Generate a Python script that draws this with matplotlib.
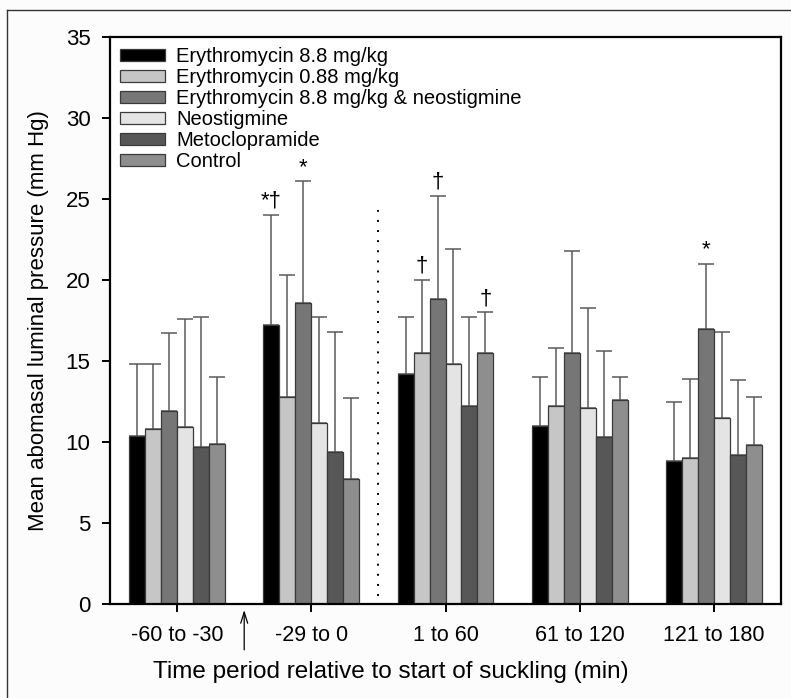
import numpy as np
import matplotlib
matplotlib.use("Agg")
import matplotlib.pyplot as plt
from matplotlib.lines import Line2D

plt.rcParams['font.family'] = ['Liberation Sans', 'DejaVu Sans']

# ---- data ----
periods = ['-60 to -30', '-29 to 0', '1 to 60', '61 to 120', '121 to 180']
treatments = ['Erythromycin 8.8 mg/kg', 'Erythromycin 0.88 mg/kg',
              'Erythromycin 8.8 mg/kg & neostigmine', 'Neostigmine',
              'Metoclopramide', 'Control']
colors = ['#000000', '#c6c6c6', '#767676', '#e4e4e4', '#575757', '#8e8e8e']

# mean pressure (mm Hg), one list per treatment
ery88 = [10.4, 17.2, 14.2, 11.0, 8.8]
ery088 = [10.8, 12.8, 15.5, 12.2, 9.0]
ery_neo = [11.9, 18.6, 18.8, 15.5, 17.0]
neo = [10.9, 11.2, 14.8, 12.1, 11.5]
meto = [9.7, 9.4, 12.2, 10.3, 9.2]
control = [9.9, 7.7, 15.5, 12.6, 9.8]

# top of the (upper) error bar
ery88_top = [14.8, 24.0, 17.7, 14.0, 12.5]
ery088_top = [14.8, 20.3, 20.0, 15.8, 13.9]
ery_neo_top = [16.7, 26.1, 25.2, 21.8, 21.0]
neo_top = [17.6, 17.7, 21.9, 18.3, 16.8]
meto_top = [17.7, 16.8, 17.7, 15.6, 13.8]
control_top = [14.0, 12.7, 18.0, 14.0, 12.8]

means = [ery88, ery088, ery_neo, neo, meto, control]
tops = [ery88_top, ery088_top, ery_neo_top, neo_top, meto_top, control_top]

# significance marks: (period index, treatment index, text)
marks = [(1, 0, '*\u2020'), (1, 2, '*'), (2, 1, '\u2020'), (2, 2, '\u2020'),
         (2, 5, '\u2020'), (4, 2, '*')]

# ---- figure ----
fig = plt.figure(figsize=(7.91, 6.98), dpi=100, facecolor='#fcfcfc')
ax = fig.add_axes([110 / 791, 94 / 698, 671 / 791, 567 / 698])

x = np.arange(len(periods))
w = 0.119
for i, (m, t) in enumerate(zip(means, tops)):
    pos = x + (i - 2.5) * w
    m = np.array(m)
    err = np.array(t) - m
    ax.bar(pos, m, width=w, color=colors[i], edgecolor='#3a3a3a',
           linewidth=0.9, label=treatments[i], zorder=2)
    ax.errorbar(pos, m, yerr=[np.zeros_like(m), err], fmt='none',
                ecolor='#5a5a5a', elinewidth=1.1, capsize=6,
                capthick=1.1, zorder=1)

for p, t, txt in marks:
    xp = x[p] + (t - 2.5) * w
    ax.text(xp, tops[t][p] + 0.2, txt, ha='center', va='bottom',
            fontsize=16)

# dotted line marking start of suckling
ax.plot([1.5, 1.5], [0.5, 24.3], color='black', lw=1.4,
        ls=(0, (1, 4.2)), zorder=3)

# arrow under the axis
ax.annotate('', xy=(0.5, -0.2), xytext=(0.5, -3.0),
            arrowprops=dict(arrowstyle='->,head_length=0.8,head_width=0.25',
                            color='black', lw=0.9),
            annotation_clip=False)

ax.set_xlim(-0.5, 4.5)
ax.set_ylim(0, 35)
ax.set_xticks(x)
ax.set_xticklabels(periods, fontsize=15.5)
ax.set_yticks(np.arange(0, 36, 5))
ax.tick_params(axis='y', labelsize=16, direction='out', length=6,
               width=1.4, pad=8)
ax.tick_params(axis='x', direction='out', length=6, width=1.4, pad=9)
for s in ax.spines.values():
    s.set_linewidth(1.6)

ax.set_ylabel('Mean abomasal luminal pressure (mm Hg)', fontsize=16,
              labelpad=12)
ax.set_xlabel('Time period relative to start of suckling (min)',
              fontsize=17.5)
ax.xaxis.set_label_coords(0.419, -0.1)

ax.legend(loc='upper left', frameon=False, fontsize=14.5,
          handlelength=2.25, handleheight=0.5, handletextpad=0.55,
          labelspacing=0.1, borderaxespad=0.25, borderpad=0.25)

# outer frame (only top and left edges are visible in the original)
fig.add_artist(Line2D([7 / 791, 1.0], [1 - 10 / 698, 1 - 10 / 698],
                      color='#333333', lw=1.0, transform=fig.transFigure))
fig.add_artist(Line2D([7 / 791, 7 / 791], [0, 1 - 10 / 698],
                      color='#333333', lw=1.0, transform=fig.transFigure))

fig.savefig('out.png', dpi=100, facecolor=fig.get_facecolor())
